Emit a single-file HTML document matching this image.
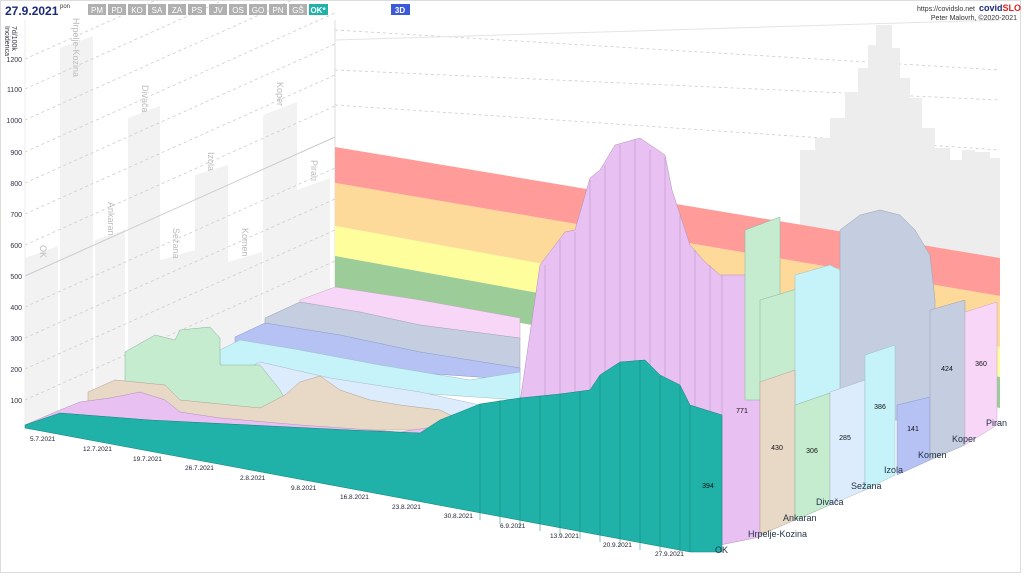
<!DOCTYPE html>
<html><head><meta charset="utf-8"><style>
body{margin:0;background:#fff;font-family:"Liberation Sans",sans-serif}
svg{display:block}
</style></head><body>
<svg width="1024" height="576" viewBox="0 0 1024 576" font-family="Liberation Sans, sans-serif">
<rect x="0.5" y="0.5" width="1020" height="572" fill="#fff" stroke="#ddd"/>
<g fill="#f2f2f2">
<polygon points="25,258 58,246 58,430 25,430"/>
<polygon points="60,48 93,36 93,430 60,430"/>
<polygon points="95,240 125,230 125,430 95,430"/>
<polygon points="128,118 160,106 160,430 128,430"/>
<polygon points="160,260 195,250 195,430 160,430"/>
<polygon points="195,175 228,165 228,430 195,430"/>
<polygon points="228,262 262,252 262,430 228,430"/>
<polygon points="263,115 297,102 297,430 263,430"/>
<polygon points="297,190 330,178 330,430 297,430"/>
</g>
<g fill="#bbb" font-size="9">
<text transform="translate(40,245) rotate(90)">OK</text>
<text transform="translate(73,18) rotate(90)">Hrpelje-Kozina</text>
<text transform="translate(108,202) rotate(90)">Ankaran</text>
<text transform="translate(142,85) rotate(90)">Divača</text>
<text transform="translate(173,228) rotate(90)">Sežana</text>
<text transform="translate(208,152) rotate(90)">Izola</text>
<text transform="translate(242,228) rotate(90)">Komen</text>
<text transform="translate(277,82) rotate(90)">Koper</text>
<text transform="translate(311,160) rotate(90)">Piran</text>
</g>
<g stroke="#ccc" stroke-dasharray="3,3" stroke-width="0.8">
<line x1="25" y1="59" x2="335" y2="-80"/><line x1="25" y1="89" x2="335" y2="-50"/>
<line x1="25" y1="120" x2="335" y2="-19"/><line x1="25" y1="152" x2="335" y2="13"/>
<line x1="25" y1="183" x2="335" y2="44"/><line x1="25" y1="214" x2="335" y2="75"/>
<line x1="25" y1="245" x2="335" y2="106"/><line x1="25" y1="307" x2="335" y2="168"/>
<line x1="25" y1="338" x2="335" y2="199"/><line x1="25" y1="369" x2="335" y2="230"/>
<line x1="25" y1="400" x2="335" y2="261"/>
</g>
<line x1="25" y1="276" x2="335" y2="137" stroke="#ccc"/>
<line x1="25" y1="20" x2="25" y2="430" stroke="#eee"/>
<line x1="335" y1="20" x2="335" y2="290" stroke="#ddd"/>
<g font-size="7" fill="#334" text-anchor="end">
<text x="22" y="62">1200</text><text x="22" y="92">1100</text><text x="22" y="123">1000</text>
<text x="22" y="155">900</text><text x="22" y="186">800</text><text x="22" y="217">700</text>
<text x="22" y="248">600</text><text x="22" y="279">500</text><text x="22" y="310">400</text>
<text x="22" y="341">300</text><text x="22" y="372">200</text><text x="22" y="403">100</text>
</g>
<text transform="translate(12,26) rotate(90)" font-size="7" fill="#334">7d/100k</text>
<text transform="translate(5,26) rotate(90)" font-size="7" fill="#334">Incidenca</text>
<g stroke="#ccc" stroke-dasharray="3,3" stroke-width="0.8">
<line x1="335" y1="30" x2="1000" y2="70"/><line x1="335" y1="70" x2="1000" y2="100"/>
<line x1="335" y1="105" x2="1000" y2="150"/><line x1="335" y1="160" x2="1000" y2="300"/>
<line x1="335" y1="200" x2="1000" y2="340"/>
</g>
<line x1="335" y1="40" x2="1000" y2="20" stroke="#e4e4e4"/>
<polygon fill="#ededed" points="800,300 800,150 815,150 815,138 830,138 830,118 845,118 845,92 858,92 858,68 868,68 868,45 876,45 876,25 892,25 892,48 900,48 900,78 910,78 910,98 922,98 922,128 935,128 935,148 950,148 950,160 962,160 962,150 975,150 975,152 990,152 990,158 1000,158 1000,320"/>
<polygon fill="#ff9c9a" points="335,147 1000,258 1000,296 335,183"/>
<polygon fill="#fdd99a" points="335,183 1000,296 1000,347 335,226"/>
<polygon fill="#fefe9c" points="335,226 1000,347 1000,377 335,256"/>
<polygon fill="#9ccc98" points="335,256 1000,377 1000,408 335,290"/>
<polygon fill="#f8d6f8" stroke="#c8a8c8" stroke-width="0.5" points="300,300 335,287 420,300 520,318 520,340 300,330"/>
<polygon fill="#c4cee0" stroke="#98a0b0" stroke-width="0.5" points="265,318 300,302 360,312 420,325 520,338 520,370 265,350"/>
<polygon fill="#b6c2f4" stroke="#8898c8" stroke-width="0.5" points="235,337 265,323 340,335 420,352 520,368 520,380 235,360"/>
<polygon fill="#c6f2fa" stroke="#98c0c8" stroke-width="0.5" points="220,350 240,340 300,350 380,365 470,380 520,372 520,400 220,380"/>
<polygon fill="#dcecfc" stroke="#a8b8c8" stroke-width="0.5" points="240,372 260,362 330,378 420,392 480,405 520,400 520,420 240,400"/>
<polygon fill="#c6ecd0" stroke="#8ab098" stroke-width="0.5" points="125,352 155,335 175,340 180,330 210,327 220,338 220,365 260,365 280,390 290,408 125,408"/>
<polygon fill="#e8d8c6" stroke="#b0a090" stroke-width="0.5" points="88,392 115,380 165,385 180,400 260,408 285,395 300,382 320,376 340,390 370,400 400,405 440,410 460,420 470,430 88,430"/>
<polygon fill="#e8c0f2" stroke="#b090b8" stroke-width="0.5" points="60,410 80,402 110,398 140,392 165,400 180,412 220,418 300,425 400,432 480,420 520,402 540,265 565,232 575,230 590,178 600,170 615,145 640,138 665,155 672,190 690,245 705,262 720,275 760,275 760,537 720,545 25,425"/>
<g stroke="#b090b8" stroke-width="0.5">
<line x1="545" y1="265" x2="545" y2="430"/><line x1="560" y1="240" x2="560" y2="430"/>
<line x1="575" y1="232" x2="575" y2="430"/><line x1="590" y1="180" x2="590" y2="430"/>
<line x1="605" y1="165" x2="605" y2="430"/><line x1="620" y1="145" x2="620" y2="430"/>
<line x1="635" y1="140" x2="635" y2="430"/><line x1="650" y1="150" x2="650" y2="430"/>
<line x1="665" y1="157" x2="665" y2="430"/><line x1="680" y1="215" x2="680" y2="430"/>
<line x1="695" y1="250" x2="695" y2="430"/><line x1="710" y1="265" x2="710" y2="430"/>
<line x1="722" y1="275" x2="722" y2="545"/>
</g>
<polygon fill="#20b2a8" stroke="#108078" stroke-width="0.5" points="25,425 60,413 150,420 250,425 350,430 420,433 440,420 480,404 520,398 560,394 590,390 600,375 620,362 645,360 660,375 680,385 690,405 722,415 722,552 690,552 25,428"/>
<g stroke="#108078" stroke-width="0.5">
<line x1="480" y1="405" x2="480" y2="520"/><line x1="500" y1="400" x2="500" y2="524"/>
<line x1="520" y1="398" x2="520" y2="528"/><line x1="540" y1="396" x2="540" y2="531"/>
<line x1="560" y1="394" x2="560" y2="535"/><line x1="580" y1="392" x2="580" y2="539"/>
<line x1="600" y1="376" x2="600" y2="542"/><line x1="620" y1="363" x2="620" y2="546"/>
<line x1="640" y1="360" x2="640" y2="550"/><line x1="660" y1="376" x2="660" y2="551"/>
<line x1="680" y1="386" x2="680" y2="552"/><line x1="690" y1="406" x2="690" y2="552"/>
</g>
<polygon fill="#c6ecd0" stroke="#8ab098" stroke-width="0.5" points="745,230 780,217 780,400 745,400"/>
<polygon fill="#c6ecd0" stroke="#8ab098" stroke-width="0.5" points="760,300 800,288 820,300 820,400 760,400"/>
<polygon fill="#c6f2fa" stroke="#98c0c8" stroke-width="0.5" points="795,275 830,265 860,280 880,300 895,345 895,420 795,420"/>
<polygon fill="#c4cee0" stroke="#98a0b0" stroke-width="0.5" points="840,230 860,215 880,210 900,215 915,230 930,255 935,300 935,420 840,420"/>
<polygon fill="#e8d8c6" stroke="#b0a090" stroke-width="0.5" points="760,382 795,370 795,520 760,535"/>
<polygon fill="#c6ecd0" stroke="#8ab098" stroke-width="0.5" points="795,405 830,393 830,505 795,520"/>
<polygon fill="#dcecfc" stroke="#a8b8c8" stroke-width="0.5" points="830,392 865,380 865,490 830,505"/>
<polygon fill="#c6f2fa" stroke="#98c0c8" stroke-width="0.5" points="865,355 895,345 895,475 865,490"/>
<polygon fill="#b6c2f4" stroke="#8898c8" stroke-width="0.5" points="897,405 930,397 930,460 897,475"/>
<polygon fill="#c4cee0" stroke="#98a0b0" stroke-width="0.5" points="930,310 965,300 965,445 930,460"/>
<polygon fill="#f8d6f8" stroke="#c8a8c8" stroke-width="0.5" points="965,312 997,302 997,425 965,445"/>
<g font-size="7" fill="#111" text-anchor="middle">
<text x="708" y="488">394</text><text x="742" y="413">771</text><text x="777" y="450">430</text>
<text x="812" y="453">306</text><text x="845" y="440">285</text><text x="880" y="409">386</text>
<text x="913" y="431">141</text><text x="947" y="371">424</text><text x="981" y="366">360</text>
</g>
<g font-size="9" fill="#234">
<text x="715" y="553">OK</text><text x="748" y="537">Hrpelje-Kozina</text>
<text x="783" y="521">Ankaran</text><text x="816" y="505">Divača</text>
<text x="851" y="489">Sežana</text><text x="884" y="473">Izola</text>
<text x="918" y="458">Komen</text><text x="952" y="442">Koper</text><text x="986" y="426">Piran</text>
</g>
<g font-size="6.5" fill="#223">
<text x="30" y="441">5.7.2021</text><text x="83" y="451">12.7.2021</text>
<text x="133" y="461">19.7.2021</text><text x="185" y="470">26.7.2021</text>
<text x="240" y="480">2.8.2021</text><text x="291" y="490">9.8.2021</text>
<text x="340" y="499">16.8.2021</text><text x="392" y="509">23.8.2021</text>
<text x="444" y="518">30.8.2021</text><text x="500" y="528">6.9.2021</text>
<text x="550" y="538">13.9.2021</text><text x="603" y="547">20.9.2021</text>
<text x="655" y="556">27.9.2021</text>
</g>
<text x="5" y="15" font-size="12" font-weight="bold" fill="#1a2a7a">27.9.2021</text>
<text x="60" y="8" font-size="6" fill="#333">pon</text>
<g fill="#b0b0b0">
<rect x="88" y="4" width="18" height="11"/><rect x="108" y="4" width="18" height="11"/>
<rect x="128" y="4" width="18" height="11"/><rect x="148" y="4" width="18" height="11"/>
<rect x="168" y="4" width="18" height="11"/><rect x="188" y="4" width="18" height="11"/>
<rect x="209" y="4" width="18" height="11"/><rect x="229" y="4" width="18" height="11"/>
<rect x="249" y="4" width="18" height="11"/><rect x="269" y="4" width="18" height="11"/>
<rect x="289" y="4" width="18" height="11"/>
</g>
<rect x="309" y="4" width="19" height="11" fill="#20b2a8"/>
<rect x="391" y="4" width="19" height="11" fill="#3a5ad8"/>
<g font-size="8" fill="#fff" text-anchor="middle">
<text x="97" y="13">PM</text><text x="117" y="13">PD</text><text x="137" y="13">KO</text>
<text x="157" y="13">SA</text><text x="177" y="13">ZA</text><text x="197" y="13">PS</text>
<text x="218" y="13">JV</text><text x="238" y="13">OS</text><text x="258" y="13">GO</text>
<text x="278" y="13">PN</text><text x="298" y="13">GŠ</text><text x="318" y="13" font-weight="bold">OK*</text>
<text x="400" y="13" font-weight="bold">3D</text>
</g>
<text x="975" y="11" font-size="7" fill="#333" text-anchor="end">https://covidslo.net</text>
<text x="979" y="11" font-size="9" font-weight="bold" fill="#1a2a7a">covid<tspan fill="#e02020">SLO</tspan></text>
<text x="1017" y="20" font-size="7" fill="#333" text-anchor="end">Peter Malovrh, ©2020-2021</text>
</svg>
</body></html>
